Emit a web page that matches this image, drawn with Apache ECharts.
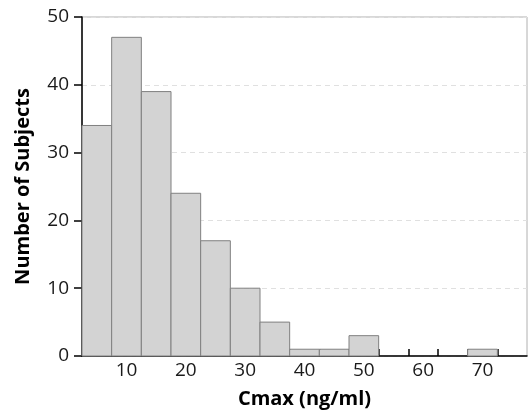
<!DOCTYPE html>
<html>
<head>
<meta charset="utf-8">
<script src="https://cdn.jsdelivr.net/npm/echarts@6/dist/echarts.min.js"></script>
<style>
    html, body { margin: 0; padding: 0; background: #fff; }
    #container { width: 529px; height: 414px; }
</style>
</head>
<body>
<div id="container"></div>
<script>
    // histogram bins (centre, width 5) and counts
    let binCenters = [5, 10, 15, 20, 25, 30, 35, 40, 45, 50, 55, 60, 65, 70];
    let counts = [34, 47, 39, 24, 17, 10, 5, 1, 1, 3, 0, 0, 0, 1];
    let binWidth = 5;
    let xLabels = [10, 20, 30, 40, 50, 60, 70];
    let binEdges = [7.5, 12.5, 17.5, 22.5, 27.5, 32.5, 37.5, 42.5, 47.5, 52.5, 57.5, 62.5, 67.5, 72.5];

    let fontName = "Open Sans";

    function getChart() {
        let dom = document.getElementById("container");
        let myChart = echarts.init(dom);
        let seriesData = [];
        binCenters.forEach(function(c, i) {
            seriesData.push([c, counts[i]]);
        });

        let option = {
            animation: false,
            grid: {
                left: 82,
                right: 2,
                top: 17,
                bottom: 57,
                show: true,
                borderColor: '#b0b0b0',
                borderWidth: 1
            },
            xAxis: {
                type: 'value',
                min: 2.5,
                max: 77.5,
                name: 'Cmax (ng/ml)',
                nameLocation: 'middle',
                nameGap: 33,
                nameTextStyle: { fontFamily: fontName, fontWeight: 'bold', fontSize: 20, color: '#000' },
                axisLine: { lineStyle: { color: '#000', width: 1.5 } },
                axisTick: { inside: true, length: 7, customValues: binEdges, lineStyle: { color: '#000', width: 1.5 } },
                axisLabel: { customValues: xLabels, fontFamily: fontName, fontSize: 19, color: '#1a1a1a', margin: 5 },
                splitLine: { show: false }
            },
            yAxis: {
                type: 'value',
                min: 0,
                max: 50,
                interval: 10,
                name: 'Number of Subjects',
                nameLocation: 'middle',
                nameGap: 49,
                nameTextStyle: { fontFamily: fontName, fontWeight: 'bold', fontSize: 20, color: '#000' },
                axisLine: { show: true, lineStyle: { color: '#000', width: 1.5 } },
                axisTick: { show: true, length: 8, lineStyle: { color: '#000', width: 1.5 } },
                axisLabel: { fontFamily: fontName, fontSize: 19, color: '#1a1a1a', margin: 13 },
                splitLine: { show: true, lineStyle: { color: '#e0e0e0', type: [5, 4], width: 1 } }
            },
            series: [{
                type: 'custom',
                data: seriesData,
                renderItem: function(params, api) {
                    let c = api.value(0);
                    let v = api.value(1);
                    if (!v) return null;
                    let p0 = api.coord([c - binWidth / 2, v]);
                    let p1 = api.coord([c + binWidth / 2, 0]);
                    return {
                        type: 'rect',
                        shape: { x: p0[0], y: p0[1], width: p1[0] - p0[0], height: p1[1] - p0[1] },
                        style: { fill: '#d3d3d3', stroke: '#808080', lineWidth: 1 }
                    };
                }
            }]
        };
        myChart.setOption(option, true);
    }
    getChart();
</script>
</body>
</html>
